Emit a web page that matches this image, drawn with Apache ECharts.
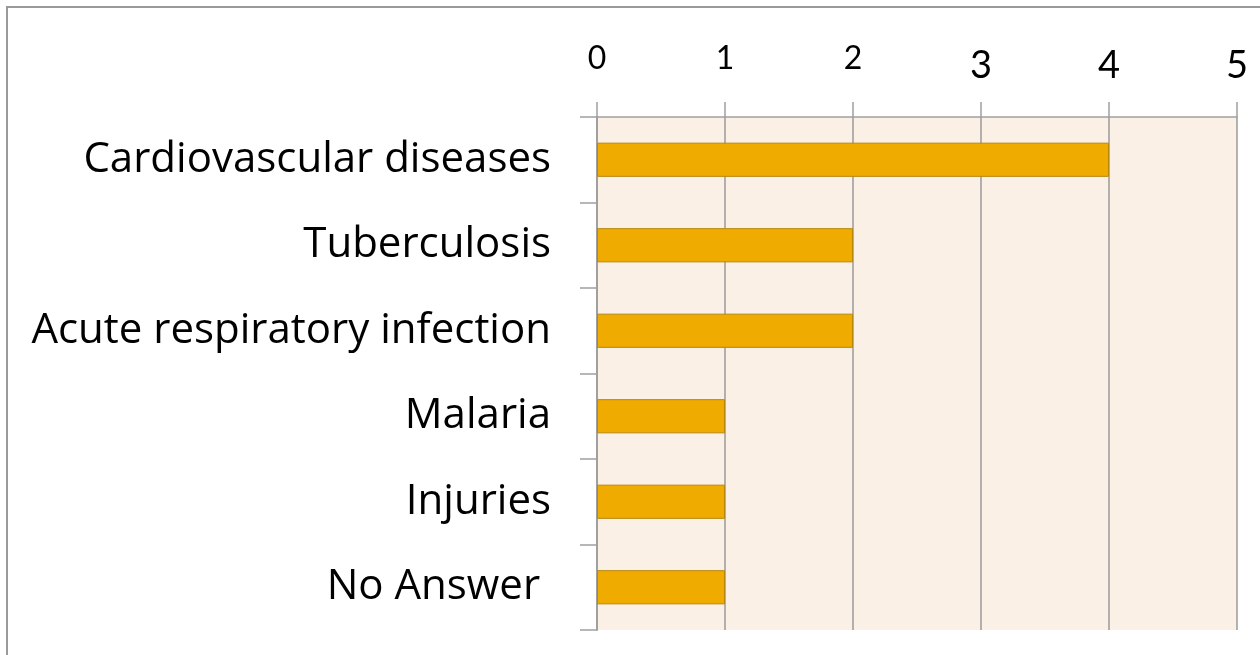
<!DOCTYPE html>
<html>
<head>
<meta charset="utf-8">
<script src="https://cdn.jsdelivr.net/npm/echarts@6/dist/echarts.min.js"></script>
<style>
  html, body { margin: 0; padding: 0; background: #fff; }
  #chart { width: 1260px; height: 655px; }
</style>
</head>
<body>
<div id="chart"></div>
<script>
const categories = [
  'Cardiovascular diseases',
  'Tuberculosis',
  'Acute respiratory infection',
  'Malaria',
  'Injuries',
  'No Answer '
]
const counts = [4, 2, 2, 1, 1, 1]
const axisMax = 5

const myChart = echarts.init(document.getElementById('chart'))
const option = {
  animation: false,
  graphic: [{
    type: 'rect',
    shape: { x: 7, y: 7, width: 1400, height: 800 },
    style: { fill: 'none', stroke: '#9a9a9a', lineWidth: 2 },
    silent: true
  }],
  grid: {
    left: 597,
    right: 23,
    top: 117,
    bottom: 25,
    show: true,
    backgroundColor: '#FAF0E6',
    borderWidth: 0
  },
  xAxis: {
    type: 'value',
    position: 'top',
    min: 0,
    max: axisMax,
    interval: 1,
    axisLine: { show: true, lineStyle: { color: '#a0a0a0', width: 1.5 } },
    axisTick: { show: true, length: 15, lineStyle: { color: '#a0a0a0', width: 1.5 } },
    splitLine: { show: true, lineStyle: { color: '#9a9a9a', width: 1.5 } },
    axisLabel: {
      margin: 32,
      fontFamily: 'Lato',
      color: '#000',
      formatter: (v) => (v >= 3 ? '{big|' + v + '}' : '{small|' + v + '}'),
      rich: {
        small: { fontSize: 32, fontFamily: 'Lato', color: '#000', padding: [0, 0, 10, 0] },
        big: { fontSize: 38, fontFamily: 'Lato', color: '#000' }
      }
    }
  },
  yAxis: {
    type: 'category',
    data: categories,
    inverse: true,
    axisLine: { show: true, lineStyle: { color: '#a0a0a0', width: 2 } },
    axisTick: { show: true, length: 17, lineStyle: { color: '#a0a0a0', width: 1.5 } },
    axisLabel: {
      margin: 46,
      fontSize: 42,
      fontFamily: 'Open Sans',
      color: '#000'
    }
  },
  series: [{
    type: 'bar',
    data: counts,
    barWidth: '40%',
    itemStyle: {
      color: '#F0AB00',
      borderColor: '#B8860B',
      borderWidth: 1
    }
  }]
}
myChart.setOption(option)
</script>
</body>
</html>
